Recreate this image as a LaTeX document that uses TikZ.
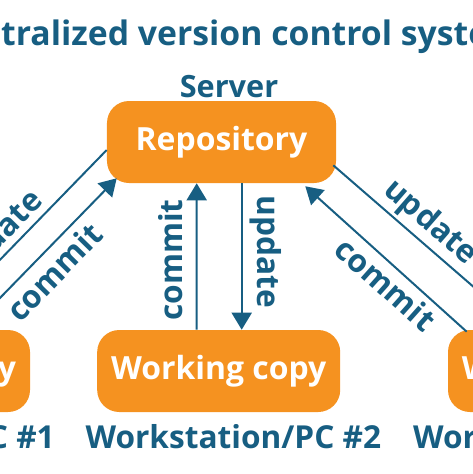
\documentclass[tikz,border=0pt]{standalone}
\usepackage{fontspec}
\setmainfont{Open Sans}
\usetikzlibrary{arrows.meta,calc}
\definecolor{vcsorange}{RGB}{245,146,32}
\definecolor{vcsblue}{RGB}{23,94,130}
\tikzstyle{box}=[rectangle, rounded corners=5.5mm, fill=vcsorange, text=white, inner sep=0pt, minimum height=20.5mm, font=\fontsize{22.7}{27}\selectfont\bfseries]
\tikzstyle{lbl}=[inner sep=0pt, text=vcsblue, font=\fontsize{22.5}{27}\selectfont\bfseries]
\tikzstyle{title}=[inner sep=0pt, text=vcsblue, font=\fontsize{24}{29}\selectfont\bfseries]
\tikzstyle{flow}=[draw=vcsblue, line width=0.5mm, -{Triangle[length=4.25mm, width=5mm]}]

\begin{document}
\begin{tikzpicture}[x=0.25mm, y=-0.25mm]
    \useasboundingbox (0,0) rectangle (473,474);
    \clip (0,0) rectangle (473,474);

    \node[title, anchor=base] (ttl) at (229.5,45) {Centralized version control system};
    \node[lbl, anchor=base, font=\fontsize{21.8}{26}\selectfont\bfseries] (srv) at (229,97) {Server};

    \node[box, minimum width=57.25mm] (repo) at (221.5,142) {Repository};
    \node[box, minimum width=60.75mm] (wc1) at (-91.5,371) {Working copy};
    \node[box, minimum width=60.75mm] (wc2) at (218.7,371) {Working copy};
    \node[box, minimum width=60.75mm] (wc3) at (569.5,371) {Working copy};

    \node[lbl, anchor=base] (ws1) at (-93,448) {Workstation/PC \#1};
    \node[lbl, anchor=base] (ws2) at (233.4,448) {Workstation/PC \#2};
    \node[lbl, anchor=base] (ws3) at (561,448) {Workstation/PC \#3};

    % left
    \draw[flow] ($(repo.west)+(0,8)$) -- ($(wc1.north)+(23.5,0)$);
    \draw[flow] ($(wc1.north)+(60.5,0)$) -- ($(repo.south west)+(10,-5)$);
    \node[lbl, rotate=45.7] (upd1) at (-1,237) {update};
    \node[lbl, rotate=45.7] (com1) at (54,272) {commit};

    % middle
    \draw[flow] ($(wc2.north)+(-22,0)$) -- ($(repo.south)+(-24.8,0)$);
    \draw[flow] ($(repo.south)+(20.2,0)$) -- ($(wc2.north)+(23,0)$);
    \node[lbl, rotate=90] (com2) at (171,260) {commit};
    \node[lbl, rotate=-90] (upd2) at (266,252) {update};

    % right
    \draw[flow] ($(repo.south east)+(-3,-18)$) -- ($(wc3.north)+(-46.5,0)$);
    \draw[flow] ($(wc3.north west)+(19,2)$) -- ($(repo.south east)+(-31,3)$);
    \node[lbl, rotate=-41] (upd3) at (430,223) {update};
    \node[lbl, rotate=-41.8] (com3) at (386,284) {commit};

  \end{tikzpicture}
\end{document}
